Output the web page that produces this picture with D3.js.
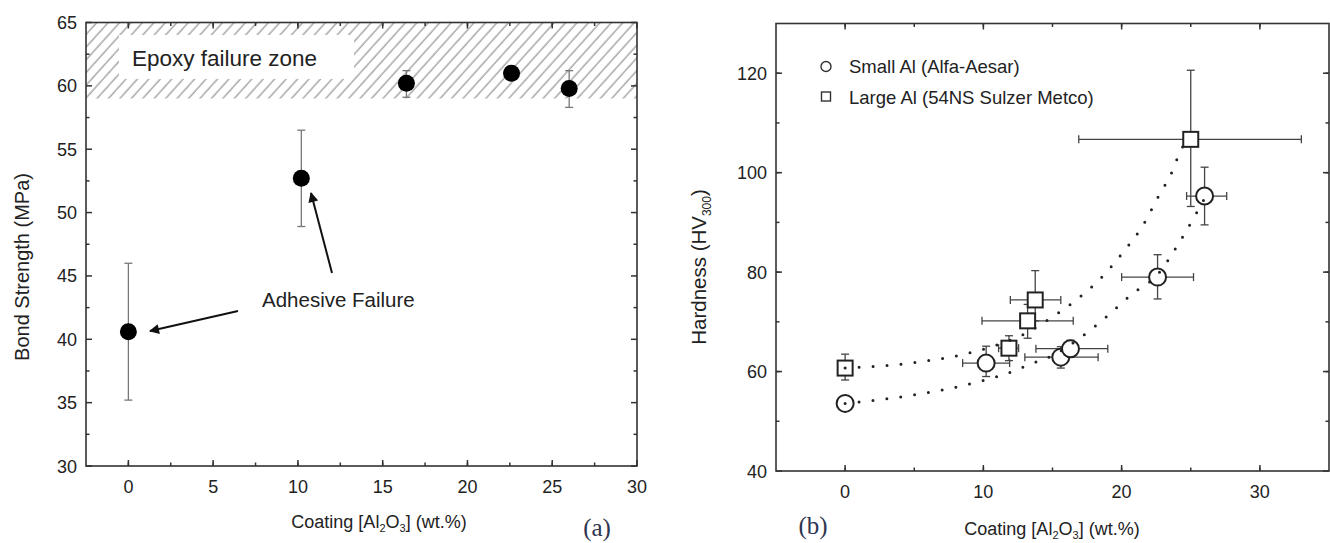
<!DOCTYPE html>
<html>
<head>
<meta charset="utf-8">
<script src="https://cdn.jsdelivr.net/npm/d3@7"></script>
<style>
  body { margin: 0; background: #fff; }
  text { font-family: "Liberation Sans", Arial, sans-serif; fill: #222; }
  text.serif { font-family: "Liberation Serif", "Times New Roman", serif; fill: #2f3550; }
</style>
</head>
<body>
<script>
// panel (a): bond strength
const coatA = [0, 10.2, 16.4, 22.6, 26.0];
const bondA = [40.6, 52.7, 60.2, 61.0, 59.8];
const bondLo = [35.2, 48.9, 59.1, 60.5, 58.3];
const bondHi = [46.0, 56.5, 61.2, 61.5, 61.2];
const ticksAx = [0, 5, 10, 15, 20, 25, 30];
const ticksAy = [30, 35, 40, 45, 50, 55, 60, 65];
const epoxyZone = [59, 65];

// panel (b): hardness
const smallX = [0, 10.2, 15.6, 16.3, 22.6, 26.0];
const smallY = [53.6, 61.7, 62.9, 64.6, 79.0, 95.3];
const smallXLo = [0, 8.5, 13.0, 13.8, 20.0, 24.7];
const smallXHi = [0, 11.9, 18.3, 19.0, 25.2, 27.6];
const smallYLo = [53.6, 59.0, 60.7, 63.0, 74.6, 89.5];
const smallYHi = [53.6, 65.1, 65.0, 66.3, 83.5, 101.1];

const largeX = [0, 11.85, 13.2, 13.75, 25.0];
const largeY = [60.7, 64.7, 70.2, 74.4, 106.7];
const largeXLo = [0, 11.1, 9.9, 11.95, 16.9];
const largeXHi = [0, 12.55, 16.5, 15.6, 33.0];
const largeYLo = [58.3, 62.2, 66.7, 70.2, 93.2];
const largeYHi = [63.5, 67.2, 73.5, 80.3, 120.6];

// dotted guide curves
const smallFitX = [0, 5, 10, 12, 13.4, 15, 17.1, 18.9, 20.8, 22.6, 24.2, 25.3, 26.0];
const smallFitY = [53.6, 55.3, 58.2, 59.9, 61.5, 63.2, 67.0, 71.0, 75.7, 79.5, 86.1, 91.3, 94.8];
const largeFitX = [0, 5, 10, 13, 15, 16.8, 18.6, 20.2, 21.6, 22.6, 23.6, 24.4, 25.0];
const largeFitY = [60.7, 61.8, 64.5, 67.6, 71.0, 74.6, 79.1, 84.3, 89.7, 94.9, 99.9, 105.1, 106.7];
const ticksBx = [0, 10, 20, 30];
const ticksBy = [40, 60, 80, 100, 120];

const svg = d3.select("body").append("svg")
    .attr("width", 1330).attr("height", 543);

const defs = svg.append("defs");
defs.append("pattern")
    .attr("id", "hatch")
    .attr("patternUnits", "userSpaceOnUse")
    .attr("width", 8.5).attr("height", 8.5)
    .attr("patternTransform", "rotate(42)")
  .append("line")
    .attr("x1", 2).attr("y1", 0).attr("x2", 2).attr("y2", 8.5)
    .attr("stroke", "#7d7d7d").attr("stroke-width", 1);
defs.append("marker")
    .attr("id", "arrow")
    .attr("viewBox", "0 0 10 10")
    .attr("refX", 9).attr("refY", 5)
    .attr("markerWidth", 6).attr("markerHeight", 5)
    .attr("markerUnits", "strokeWidth")
    .attr("orient", "auto")
  .append("path").attr("d", "M0,0L10,5L0,10z").attr("fill", "#111");

// box with inward ticks on all four sides
function frame(g, x, y, xt, yt, xMinor, yMinor) {
  const [x0, x1] = x.range(), [y0, y1] = y.range();
  const w = x1 - x0, h = y0 - y1;
  const grp = g.append("g").attr("stroke", "#333").attr("stroke-width", 1.5);
  const minorX = xMinor.filter(d => x(d) > x0 && x(d) < x1);
  const minorY = yMinor.filter(d => y(d) < y0 && y(d) > y1);
  [[xt, 6], [minorX, 3.5]].forEach(([v, len]) => {
    v.map(d => x(d)).forEach(px => {
      grp.append("line").attr("x1", px).attr("x2", px).attr("y1", y0).attr("y2", y0 - len);
      grp.append("line").attr("x1", px).attr("x2", px).attr("y1", y1).attr("y2", y1 + len);
    });
  });
  [[yt, 6], [minorY, 3.5]].forEach(([v, len]) => {
    v.map(d => y(d)).forEach(py => {
      grp.append("line").attr("y1", py).attr("y2", py).attr("x1", x0).attr("x2", x0 + len);
      grp.append("line").attr("y1", py).attr("y2", py).attr("x1", x1).attr("x2", x1 - len);
    });
  });
  g.append("rect").attr("x", x0).attr("y", y1).attr("width", w).attr("height", h)
    .attr("fill", "none").attr("stroke", "#333").attr("stroke-width", 1.6);
  g.selectAll(".xl").data(xt).join("text")
    .attr("x", d => x(d)).attr("y", y0 + 27)
    .attr("text-anchor", "middle").attr("font-size", 18).text(d => d);
  g.selectAll(".yl").data(yt).join("text")
    .attr("x", x0 - 9).attr("y", d => y(d) + 6.5)
    .attr("text-anchor", "end").attr("font-size", 18).text(d => d);
}

function coatingTitle(g, cx, cy) {
  const t = g.append("text").attr("x", cx).attr("y", cy)
    .attr("text-anchor", "middle").attr("font-size", 18);
  t.append("tspan").text("Coating [Al");
  t.append("tspan").attr("font-size", 11).attr("dy", 4).text("2");
  t.append("tspan").attr("dy", -4).text("O");
  t.append("tspan").attr("font-size", 11).attr("dy", 4).text("3");
  t.append("tspan").attr("dy", -4).text("] (wt.%)");
}

// ---------- panel (a)
const xa = d3.scaleLinear().domain([-2.5, 30]).range([86, 637]);
const ya = d3.scaleLinear().domain([30, 65]).range([466, 22.5]);
const ga = svg.append("g");

ga.append("rect")
    .attr("x", xa(-2.5)).attr("width", xa(30) - xa(-2.5))
    .attr("y", ya(epoxyZone[1])).attr("height", ya(epoxyZone[0]) - ya(epoxyZone[1]))
    .attr("fill", "url(#hatch)");
ga.append("rect").attr("x", 119).attr("y", 35).attr("width", 235).attr("height", 44).attr("fill", "#fff");
ga.append("text").attr("x", 132).attr("y", 66).attr("font-size", 22.5).text("Epoxy failure zone");

frame(ga, xa, ya, ticksAx, ticksAy, d3.range(-2.5, 30, 2.5), d3.range(32.5, 65, 5));

const errA = ga.append("g").attr("stroke", "#777").attr("stroke-width", 1.3);
coatA.forEach((c, i) => {
  errA.append("line").attr("x1", xa(c)).attr("x2", xa(c)).attr("y1", ya(bondLo[i])).attr("y2", ya(bondHi[i]));
  [bondLo[i], bondHi[i]].forEach(v =>
    errA.append("line").attr("x1", xa(c) - 4).attr("x2", xa(c) + 4).attr("y1", ya(v)).attr("y2", ya(v)));
});
ga.selectAll(".pa").data(coatA).join("ellipse")
    .attr("cx", d => xa(d)).attr("cy", (d, i) => ya(bondA[i]))
    .attr("rx", 8.5).attr("ry", 8.5).attr("fill", "#000");

ga.append("text").attr("x", 262).attr("y", 307).attr("font-size", 20.5).text("Adhesive Failure");
ga.append("line").attr("x1", 238).attr("y1", 311).attr("x2", 150).attr("y2", 331)
    .attr("stroke", "#111").attr("stroke-width", 2).attr("marker-end", "url(#arrow)");
ga.append("line").attr("x1", 332).attr("y1", 273).attr("x2", 311).attr("y2", 193)
    .attr("stroke", "#111").attr("stroke-width", 2).attr("marker-end", "url(#arrow)");

ga.append("text").attr("transform", "translate(29,267) rotate(-90)")
    .attr("text-anchor", "middle").attr("font-size", 20).text("Bond Strength (MPa)");
coatingTitle(ga, 379, 528);
ga.append("text").attr("class", "serif").attr("x", 597).attr("y", 536)
    .attr("text-anchor", "middle").attr("font-size", 25).text("(a)");

// ---------- panel (b)
const xb = d3.scaleLinear().domain([-5, 35]).range([776, 1329]);
const yb = d3.scaleLinear().domain([40, 130]).range([471, 23.5]);
const gb = svg.append("g");

frame(gb, xb, yb, ticksBx, ticksBy, d3.range(-5, 35, 5), d3.range(50, 130, 10));

const errB = gb.append("g").attr("stroke", "#444").attr("stroke-width", 1.3);
function bars(xs, ys, xl, xh, yl, yh) {
  xs.forEach((c, i) => {
    const px = xb(c), py = yb(ys[i]);
    if (xh[i] > xl[i]) {
      errB.append("line").attr("x1", xb(xl[i])).attr("x2", xb(xh[i])).attr("y1", py).attr("y2", py);
      [xl[i], xh[i]].forEach(v =>
        errB.append("line").attr("x1", xb(v)).attr("x2", xb(v)).attr("y1", py - 4).attr("y2", py + 4));
    }
    if (yh[i] > yl[i]) {
      errB.append("line").attr("x1", px).attr("x2", px).attr("y1", yb(yl[i])).attr("y2", yb(yh[i]));
      [yl[i], yh[i]].forEach(v =>
        errB.append("line").attr("x1", px - 4).attr("x2", px + 4).attr("y1", yb(v)).attr("y2", yb(v)));
    }
  });
}
bars(smallX, smallY, smallXLo, smallXHi, smallYLo, smallYHi);
bars(largeX, largeY, largeXLo, largeXHi, largeYLo, largeYHi);

gb.selectAll(".sq").data(largeX).join("rect")
    .attr("x", d => xb(d) - 7.5).attr("y", (d, i) => yb(largeY[i]) - 7.5)
    .attr("width", 15).attr("height", 15)
    .attr("fill", "#fff").attr("stroke", "#222").attr("stroke-width", 2);
gb.selectAll(".ci").data(smallX).join("circle")
    .attr("cx", d => xb(d)).attr("cy", (d, i) => yb(smallY[i])).attr("r", 8.5)
    .attr("fill", "#fff").attr("stroke", "#222").attr("stroke-width", 2);

const fitLine = d3.line().x(d => xb(d[0])).y(d => yb(d[1])).curve(d3.curveMonotoneX);
[[smallFitX, smallFitY], [largeFitX, largeFitY]].forEach(([fx, fy]) => {
  gb.append("path").attr("d", fitLine(fx.map((v, i) => [v, fy[i]])))
    .attr("fill", "none").attr("stroke", "#222").attr("stroke-width", 3)
    .attr("stroke-linecap", "round").attr("stroke-dasharray", "0 14");
});

// legend
gb.append("circle").attr("cx", 826).attr("cy", 66.5).attr("r", 5)
    .attr("fill", "none").attr("stroke", "#333").attr("stroke-width", 1.4);
gb.append("rect").attr("x", 821.5).attr("y", 92).attr("width", 9).attr("height", 9)
    .attr("fill", "none").attr("stroke", "#333").attr("stroke-width", 1.4);
gb.append("text").attr("x", 849).attr("y", 73).attr("font-size", 18.5).text("Small Al (Alfa-Aesar)");
gb.append("text").attr("x", 849).attr("y", 103.5).attr("font-size", 18.5).text("Large Al (54NS Sulzer Metco)");

const yt = gb.append("text").attr("transform", "translate(706,267) rotate(-90)")
    .attr("text-anchor", "middle").attr("font-size", 20.5);
yt.append("tspan").text("Hardness (HV");
yt.append("tspan").attr("font-size", 12).attr("dy", 5).text("300");
yt.append("tspan").attr("dy", -5).text(")");
coatingTitle(gb, 1052, 535);
gb.append("text").attr("class", "serif").attr("x", 813).attr("y", 534)
    .attr("text-anchor", "middle").attr("font-size", 25).text("(b)");
</script>
</body>
</html>
